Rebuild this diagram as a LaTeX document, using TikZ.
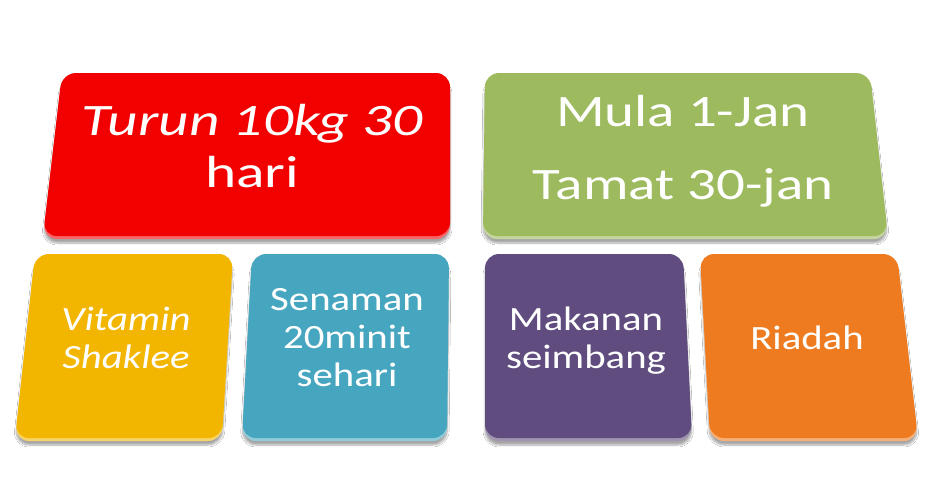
\documentclass[tikz,border=0pt]{standalone}
\usepackage{fontspec}
\setmainfont{Carlito}
\usepackage{xcolor}
\usetikzlibrary{shadows.blur}

\definecolor{tgtred}{HTML}{F20000}
\definecolor{dategreen}{HTML}{9DBB5E}
\definecolor{vityellow}{HTML}{F2B500}
\definecolor{senteal}{HTML}{47A6BF}
\definecolor{makpurple}{HTML}{604C7E}
\definecolor{riaorange}{HTML}{EE7B1F}

% one tile: colour, then the four corners (tl, tr, br, bl)
\newcommand{\tile}[5]{%
	\fill[#1!60!white, rounded corners=14pt, yshift=-3pt,
		blur shadow={shadow xshift=0pt, shadow yshift=-4pt, shadow opacity=35, shadow blur steps=8}]
		#2 -- #3 -- #4 -- #5 -- cycle;
	\fill[#1, rounded corners=14pt] #2 -- #3 -- #4 -- #5 -- cycle;}

\begin{document}
\begin{tikzpicture}[x=1pt, y=-1pt,
	lbl/.style={text=white, align=center, inner sep=0pt, xscale=1.2, transform shape},
	big/.style={lbl, font=\fontsize{44}{52}\selectfont},
	small/.style={lbl, font=\fontsize{34}{38}\selectfont}]
	\useasboundingbox[fill=white] (0,0) rectangle (933,483);

	% top row
	\tile{tgtred}{(62,73)}{(450,73)}{(450,236)}{(43,236)}
	\tile{dategreen}{(485,73)}{(870,73)}{(888,236)}{(483,236)}
	% bottom row
	\tile{vityellow}{(35,254)}{(233,254)}{(222,438)}{(15,438)}
	\tile{senteal}{(252,254)}{(449,254)}{(447,438)}{(242,438)}
	\tile{makpurple}{(485,254)}{(683,254)}{(692,438)}{(485,438)}
	\tile{riaorange}{(700,254)}{(897,254)}{(918,438)}{(710,438)}

	\node[big, xscale=1.1, font=\fontsize{45}{52}\selectfont] (goal) at (252,146) {\itshape Turun 10kg 30\\hari};
	\node[big, xscale=1.055, font=\fontsize{45}{73}\selectfont] (date) at (683,151) {Mula 1-Jan\\Tamat 30-jan};
	\node[small, font=\fontsize{34}{38}\selectfont\itshape] (vitamin) at (126,338) {Vitamin\\Shaklee};
	\node[small] (senaman) at (347,338) {Senaman\\20minit\\sehari};
	\node[small] (makanan) at (586,341) {Makanan\\seimbang};
	\node[small] (riadah) at (807,338) {Riadah};
\end{tikzpicture}
\end{document}
